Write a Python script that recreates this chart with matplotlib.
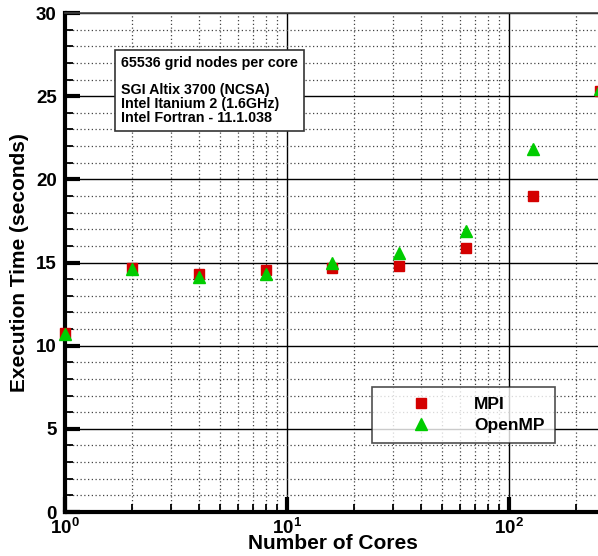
import numpy as np
import matplotlib.pyplot as plt
from matplotlib.ticker import FixedLocator, NullFormatter

plt.rcParams["font.family"] = ["Liberation Sans", "DejaVu Sans"]
plt.rcParams["font.weight"] = "bold"
plt.rcParams["mathtext.fontset"] = "custom"
plt.rcParams["mathtext.rm"] = "Liberation Sans:bold"
plt.rcParams["mathtext.bf"] = "Liberation Sans:bold"

cores = [1, 2, 4, 8, 16, 32, 64, 128, 256]
mpi_time = [10.75, 14.65, 14.3, 14.55, 14.65, 14.8, 15.9, 19.0, 25.3]
openmp_time = [10.7, 14.6, 14.1, 14.3, 15.0, 15.55, 16.9, 21.8, 25.45]

x_ticks = [1, 10, 100]
x_tick_labels = ["$\\mathbf{10^0}$", "$\\mathbf{10^1}$", "$\\mathbf{10^2}$"]
y_ticks = [0, 5, 10, 15, 20, 25, 30]

info_text = ("65536 grid nodes per core\n\n"
             "SGI Altix 3700 (NCSA)\n"
             "Intel Itanium 2 (1.6GHz)\n"
             "Intel Fortran - 11.1.038")

fig = plt.figure(figsize=(5.98, 5.56), dpi=100)
# right edge sits just past the canvas so the 256-core points land on the border
ax = fig.add_axes([0.1087, 0.0791, 0.8946, 0.8975])

ax.set_xscale("log")
ax.set_xlim(1, 256)
ax.set_ylim(0, 30)

# grid: solid majors, dotted minors
ax.set_xticks(x_ticks)
ax.set_xticklabels(x_tick_labels)
ax.xaxis.set_minor_locator(FixedLocator(
    [m * d for d in (1, 10, 100) for m in range(2, 10) if m * d <= 256]))
ax.xaxis.set_minor_formatter(NullFormatter())
ax.set_yticks(y_ticks)
ax.set_yticklabels([str(v) for v in y_ticks])
ax.yaxis.set_minor_locator(FixedLocator(np.arange(0, 31, 1)))

ax.grid(which="major", color="black", linewidth=1.0, linestyle="-", zorder=0)
ax.grid(which="minor", color="#444444", linewidth=0.9, linestyle=(0, (1, 2)), zorder=0)
ax.set_axisbelow(True)

ax.tick_params(axis="both", which="major", direction="in", length=11, width=3,
               labelsize=13.5)
ax.tick_params(axis="both", which="minor", direction="in", length=6, width=1.3)
ax.tick_params(axis="y", which="major", pad=6)
ax.tick_params(axis="x", which="major", pad=4)

for s in ("left", "bottom"):
    ax.spines[s].set_linewidth(3)
ax.spines["top"].set_linewidth(1.2)
ax.spines["top"].set_color("#444444")
ax.spines["right"].set_visible(False)

ax.plot(cores, mpi_time, linestyle="none", marker="s", markersize=7.5,
        color="#d40000", label="MPI", clip_on=False, zorder=3)
ax.plot(cores, openmp_time, linestyle="none", marker="^", markersize=9,
        color="#00cc00", label="OpenMP", clip_on=False, zorder=4)

ax.set_xlabel("Number of Cores", fontsize=15, fontweight="bold", labelpad=-2.5)
ax.set_ylabel("Execution Time (seconds)", fontsize=15, fontweight="bold", labelpad=5)

ax.text(0.105, 0.914, info_text, transform=ax.transAxes, fontsize=10.3,
        fontweight="bold", va="top", ha="left", linespacing=0.98,
        bbox=dict(boxstyle="square,pad=0.4", facecolor="white",
                  edgecolor="#333333", linewidth=1.2), zorder=5)

leg = ax.legend(loc="lower left", bbox_to_anchor=(0.574, 0.1383), fontsize=12.5,
                frameon=True, fancybox=False, edgecolor="#222222",
                handletextpad=0.84, borderpad=0.6, labelspacing=0.3,
                handlelength=4.43, borderaxespad=0, markerscale=0.9)
leg.get_frame().set_linewidth(1.2)
leg.set_zorder(6)

fig.savefig("out.png", dpi=100)
